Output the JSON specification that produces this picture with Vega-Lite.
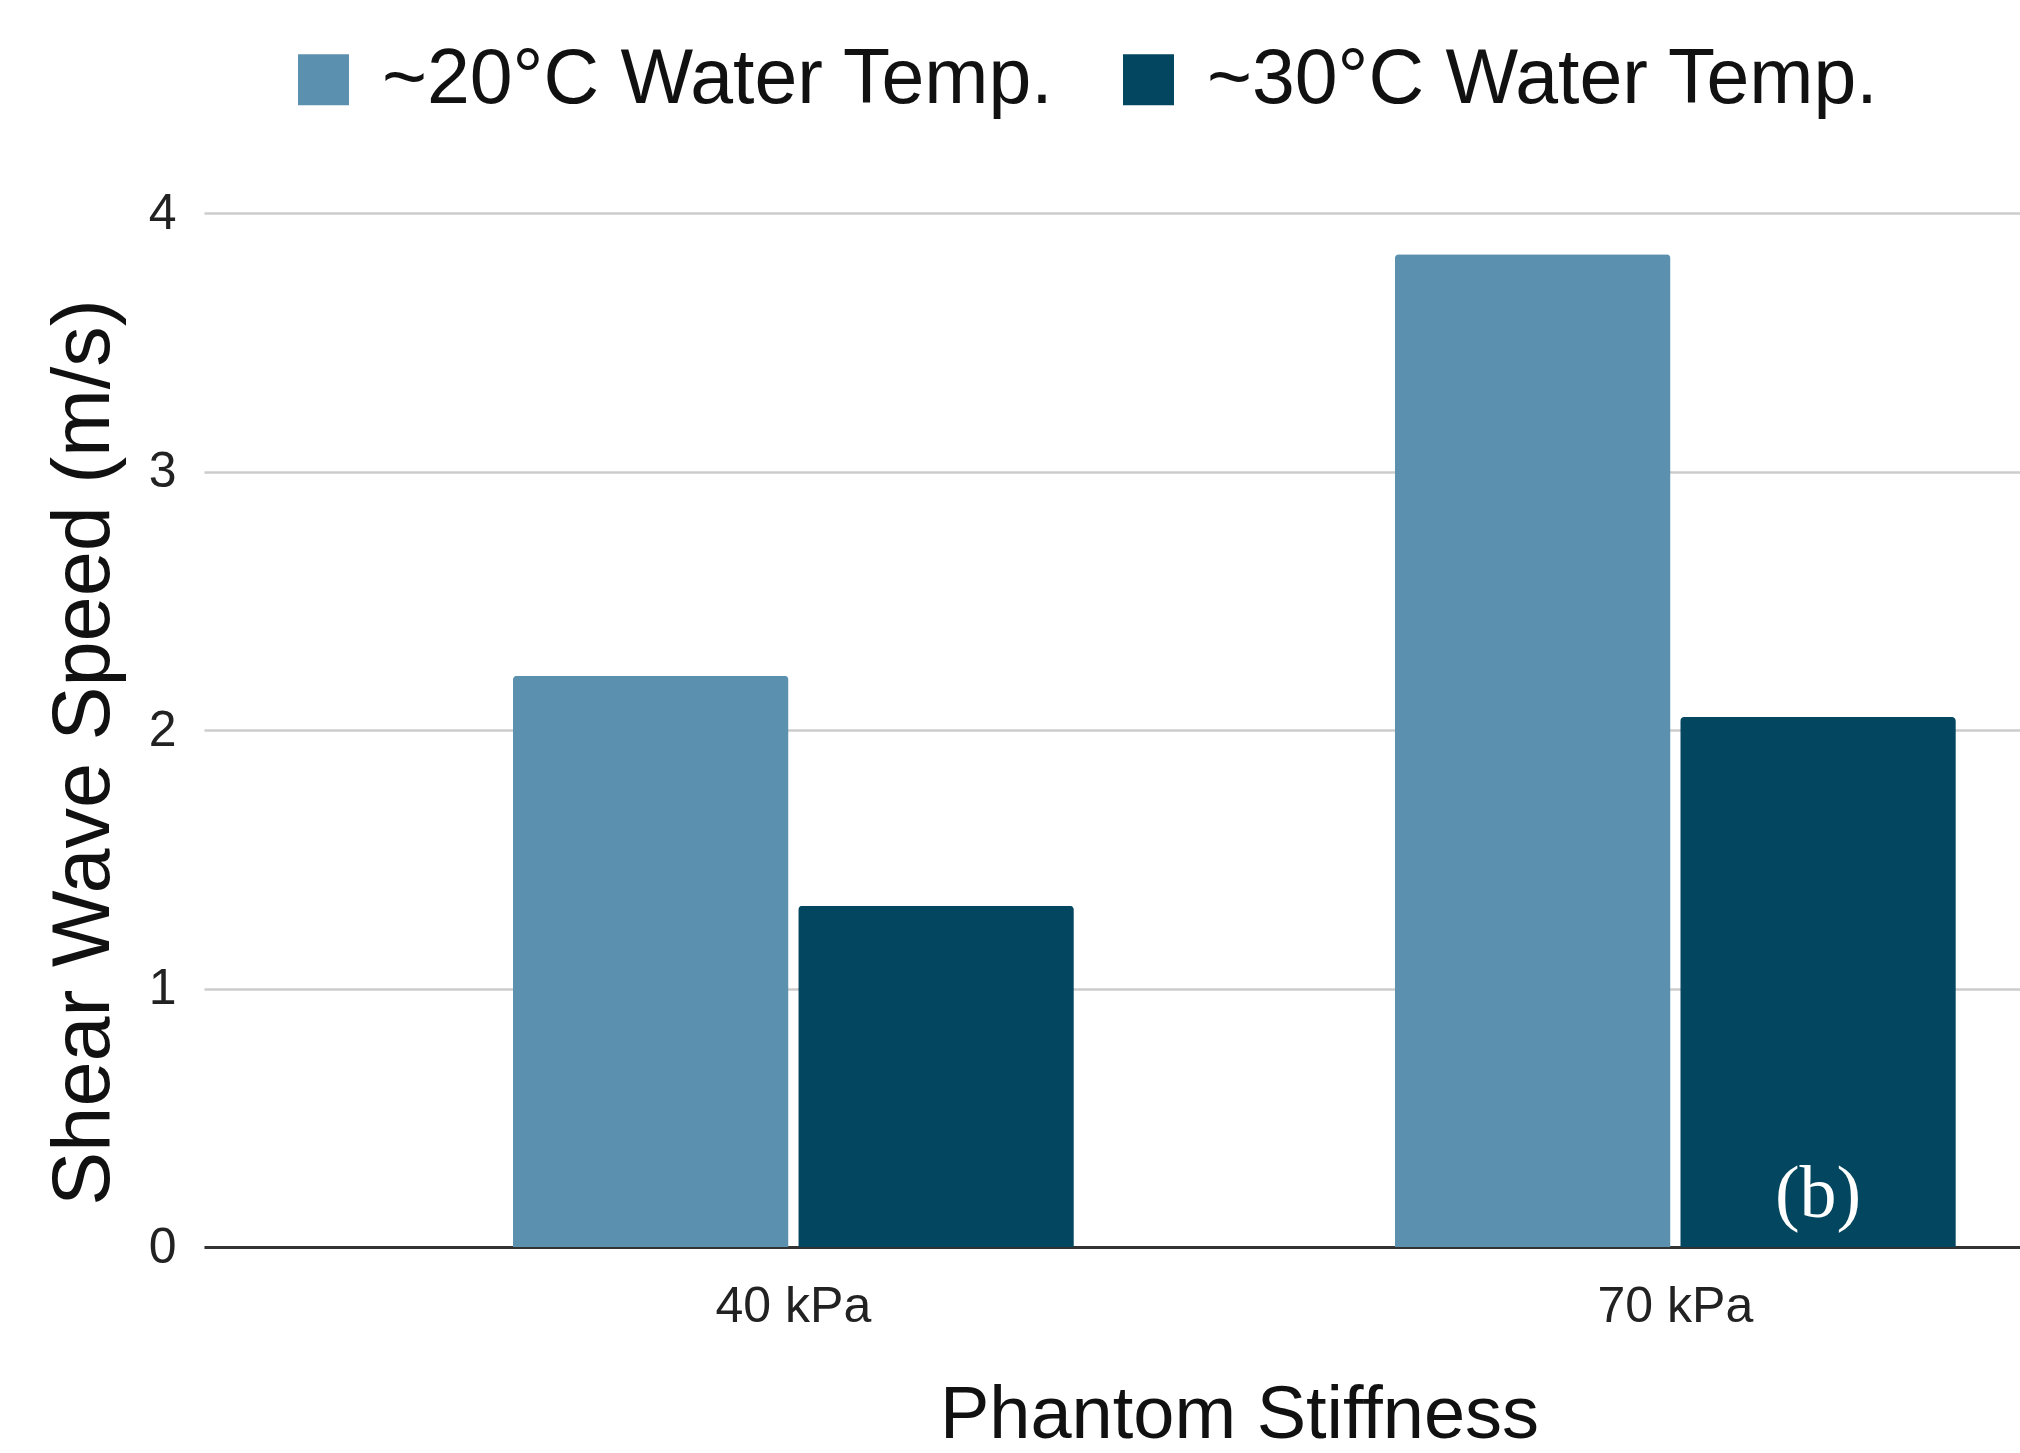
{
  "$schema": "https://vega.github.io/schema/vega-lite/v6.json",
  "autosize": {"type": "none"},
  "width": 1816,
  "height": 1034,
  "padding": {"left": 204, "top": 213, "right": 0, "bottom": 206},
  "background": "white",
  "config": {
    "font": "Liberation Sans",
    "view": {"stroke": null}
  },
  "layer": [
    {
      "data": {
        "values": [
          {"stiffness": "40 kPa", "temp": "~20°C Water Temp.", "speed": 2.21},
          {"stiffness": "40 kPa", "temp": "~30°C Water Temp.", "speed": 1.32},
          {"stiffness": "70 kPa", "temp": "~20°C Water Temp.", "speed": 3.84},
          {"stiffness": "70 kPa", "temp": "~30°C Water Temp.", "speed": 2.05}
        ]
      },
      "mark": {"type": "bar", "cornerRadiusTopLeft": 4, "cornerRadiusTopRight": 4},
      "encoding": {
        "x": {
          "field": "stiffness", "type": "nominal",
          "scale": {"paddingInner": 0.364, "paddingOuter": 0.2115, "align": 0.828},
          "axis": {
            "title": "Phantom Stiffness",
            "titleFontSize": 74, "titleFontWeight": "normal", "titleColor": "#111111",
            "titleX": 1035, "titleY": 190, "titleAlign": "center", "titleBaseline": "alphabetic",
            "labelAngle": 0, "labelFontSize": 50, "labelColor": "#222222", "labelPadding": 34,
            "ticks": false, "domainColor": "#333333", "domainWidth": 3
          }
        },
        "xOffset": {
          "field": "temp", "type": "nominal",
          "scale": {"paddingInner": 0.034, "paddingOuter": 0}
        },
        "y": {
          "field": "speed", "type": "quantitative",
          "scale": {"domain": [0, 4], "nice": false},
          "axis": {
            "title": "Shear Wave Speed (m/s)",
            "titleFontSize": 81, "titleFontWeight": "normal", "titleColor": "#111111",
            "titleX": -120, "titleY": 539, "titleAlign": "center", "titleBaseline": "middle", "titleAngle": -90,
            "values": [0, 1, 2, 3, 4], "format": "d",
            "labelFontSize": 50, "labelColor": "#222222", "labelPadding": 28,
            "ticks": false, "domain": false,
            "gridColor": "#cccccc", "gridWidth": 2.5
          }
        },
        "color": {
          "field": "temp", "type": "nominal",
          "scale": {"domain": ["~20°C Water Temp.", "~30°C Water Temp."], "range": ["#5b91af", "#03465f"]},
          "legend": {
            "title": null,
            "orient": "none", "legendX": 81, "legendY": -172,
            "direction": "horizontal",
            "symbolType": "square", "symbolSize": 2600, "symbolStrokeWidth": 0,
            "labelFontSize": 77, "labelColor": "#111111", "labelLimit": 2000,
            "labelOffset": 20, "columnPadding": 56
          }
        }
      }
    },
    {
      "data": {
        "values": [
          {"stiffness": "70 kPa", "temp": "~30°C Water Temp.", "speed": 0.2, "label": "(b)"}
        ]
      },
      "mark": {"type": "text", "font": "Liberation Serif", "fontSize": 74, "color": "white", "align": "center", "baseline": "middle"},
      "encoding": {
        "x": {"field": "stiffness", "type": "nominal"},
        "xOffset": {"field": "temp", "type": "nominal"},
        "y": {"field": "speed", "type": "quantitative"},
        "text": {"field": "label"}
      }
    }
  ]
}
